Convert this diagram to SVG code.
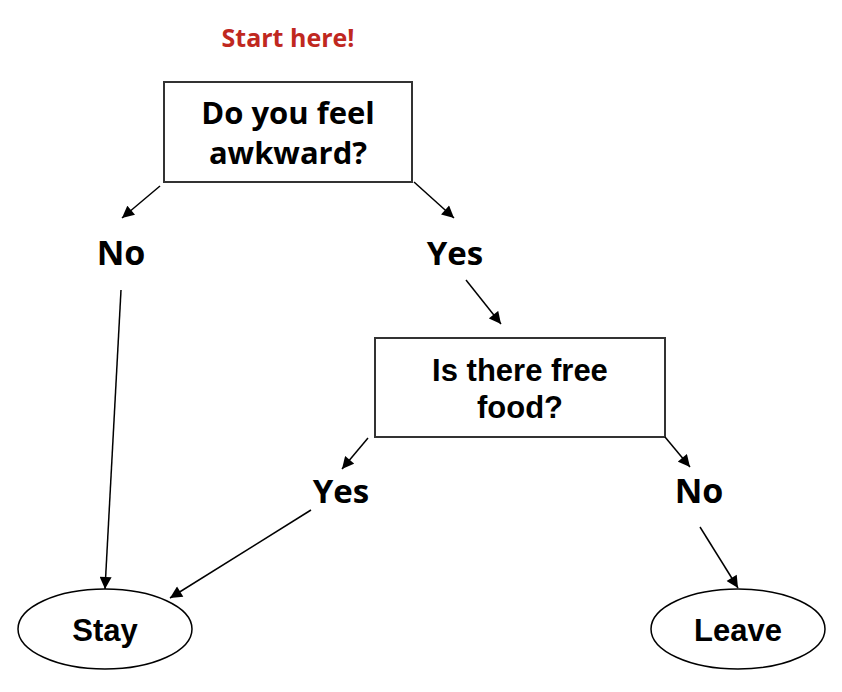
<svg xmlns="http://www.w3.org/2000/svg" width="842" height="692" viewBox="0 0 842 692">
<style>
.box{fill:#fff;stroke:#333;stroke-width:2}
.ell{fill:#fff;stroke:#000;stroke-width:1.5}
.os{font-family:"Open Sans","DejaVu Sans",sans-serif;font-weight:bold;text-anchor:middle;fill:#000}
.ar{font-family:"Liberation Sans",Arial,sans-serif;font-weight:bold;text-anchor:middle;fill:#000}
.conn line{stroke:#000;stroke-width:1.5;marker-end:url(#ah)}
</style>
<defs>
<marker id="ah" viewBox="0 0 10 10" refX="10" refY="5" markerWidth="13" markerHeight="12" markerUnits="userSpaceOnUse" orient="auto">
<path d="M0,0 L10,5 L0,10 z" fill="#000"/>
</marker>
</defs>
<rect width="842" height="692" fill="#fff"/>
<g id="start"><text class="os" x="288" y="47" font-size="25" style="fill:#c0281f">Start here!</text></g>
<g id="q1">
<rect class="box" x="164" y="82" width="248" height="100"/>
<text class="os" x="288" y="124" font-size="31">Do you feel</text>
<text class="os" x="288" y="164" font-size="31">awkward?</text>
</g>
<g id="no1"><text class="os" x="121" y="265" font-size="34">No</text></g>
<g id="yes1"><text class="os" x="455" y="265" font-size="33">Yes</text></g>
<g id="q2">
<rect class="box" x="375" y="338" width="290" height="99"/>
<text class="ar" x="520" y="381" font-size="31">Is there free</text>
<text class="ar" x="520" y="418" font-size="31">food?</text>
</g>
<g id="yes2"><text class="os" x="341" y="503" font-size="33">Yes</text></g>
<g id="no2"><text class="os" x="699" y="503" font-size="34">No</text></g>
<g id="stay">
<ellipse class="ell" cx="105" cy="629" rx="87" ry="40"/>
<text class="ar" x="105" y="641" font-size="31">Stay</text>
</g>
<g id="leave">
<ellipse class="ell" cx="738" cy="629" rx="87" ry="40"/>
<text class="ar" x="738" y="641" font-size="31">Leave</text>
</g>
<g id="connectors" class="conn">
<line x1="160" y1="186" x2="122" y2="218"/>
<line x1="414" y1="182" x2="454" y2="218"/>
<line x1="466" y1="280" x2="501" y2="324"/>
<line x1="121" y1="290" x2="105" y2="589"/>
<line x1="368" y1="438" x2="342" y2="469"/>
<line x1="665" y1="437" x2="690" y2="467"/>
<line x1="311" y1="510" x2="170" y2="598"/>
<line x1="700" y1="527" x2="738" y2="588"/>
</g>
</svg>
